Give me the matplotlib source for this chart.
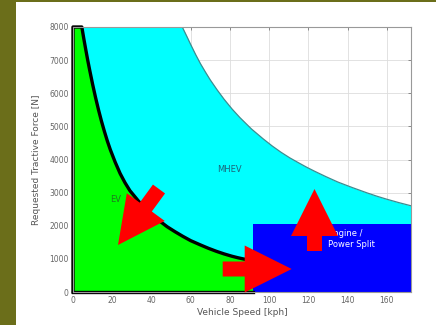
import numpy as np
import matplotlib
matplotlib.use("Agg")
from matplotlib import pyplot as plt
from matplotlib.patches import Polygon, Rectangle

# EV limit curve
ev_speed = [4.5, 5.5, 6.5, 7.5, 8.5, 10, 11.5, 13, 14.5, 16, 17.5, 19, 21.5, 24, 26.5, 29,
            34, 39, 44, 48, 52, 56, 60, 65, 69, 73, 77, 81, 84, 87, 92]
ev_force = [8000, 7650, 7320, 7000, 6700, 6270, 5870, 5500, 5160, 4850, 4560, 4300, 3920,
            3580, 3300, 3060, 2700, 2400, 2150, 1970, 1820, 1680, 1550, 1420, 1320, 1230,
            1150, 1080, 1035, 996, 946]

# MHEV upper limit curve
mhev_speed = [55.7, 58, 60, 62.5, 65, 67.5, 70, 73.5, 77, 81, 85, 91, 97, 101.5, 106, 110.5,
              115, 119, 123, 129, 135, 142.5, 150, 155, 160, 166, 172.5]
mhev_force = [8000, 7720, 7470, 7170, 6890, 6640, 6400, 6100, 5820, 5530, 5270, 4920, 4620,
              4410, 4220, 4050, 3900, 3770, 3650, 3480, 3320, 3150, 2990, 2890, 2800, 2700,
              2600]

# Engine / power split block
engine_speed = [91.6, 172.5]
engine_force = 2050

x_ticks = [0, 20, 40, 60, 80, 100, 120, 140, 160]
y_ticks = [0, 1000, 2000, 3000, 4000, 5000, 6000, 7000, 8000]

W, H = 436, 325
fig = plt.figure(figsize=(W / 100, H / 100), dpi=100)
fig.patch.set_facecolor("white")

# olive frame of the slide
fig.add_artist(Rectangle((0, 0), 16 / W, 1, transform=fig.transFigure,
                         facecolor="#6b6e1a", edgecolor="none"))
fig.add_artist(Rectangle((0, 1 - 1.5 / H), 1, 1.5 / H, transform=fig.transFigure,
                         facecolor="#6b6e1a", edgecolor="none"))

ax = fig.add_axes([73 / W, 1 - 292 / H, 338 / W, 265 / H])
ax.set_axisbelow(True)
ax.grid(True, color="#dddddd", linewidth=0.6)

# regions
ax.fill_between([0] + mhev_speed, 0, [8000] + mhev_force, color="#00ffff", lw=0)
ax.plot(mhev_speed, mhev_force, color="#3d8c90", lw=0.9)
ax.fill_between([0] + ev_speed, 0, [8000] + ev_force, color="#00ff00", lw=0)
ax.fill_between(engine_speed, 0, engine_force, color="#0000ff", lw=0)

# EV outline
ax.plot([0, 0] + ev_speed, [0, 8000] + ev_force, color="black", lw=2.4, clip_on=False,
        solid_joinstyle="round")
ax.plot([0, ev_speed[-1]], [0, 0], color="black", lw=2.4, clip_on=False)

ax.text(21.5, 2780, "EV", color="#1f7a1f", fontsize=6, ha="center", va="center")
ax.text(80, 3690, "MHEV", color="#1c6478", fontsize=6, ha="center", va="center")
ax.text(130, 1600, "Engine /\nPower Split", color="white", fontsize=6, ha="left",
        va="center", linespacing=1.3)

ax.set_xlim(0, 172.3)
ax.set_ylim(0, 8000)
ax.set_xticks(x_ticks)
ax.set_yticks(y_ticks)
ax.tick_params(direction="in", length=2, width=0.5, labelsize=5.5, colors="#666666",
               top=True, right=True, pad=3)
for s in ax.spines.values():
    s.set_color("#999999")
    s.set_linewidth(0.8)
ax.set_xlabel("Vehicle Speed [kph]", fontsize=6.5, color="#555555", labelpad=2)
ax.set_ylabel("Requested Tractive Force [N]", fontsize=6.5, color="#555555", labelpad=6)


def arrow(tail, tip, shaft_w=15, head_w=47, head_l=47):
    tail = np.array(tail, float)
    tip = np.array(tip, float)
    d = (tip - tail) / np.linalg.norm(tip - tail)
    n = np.array([-d[1], d[0]])
    base = tip - d * head_l
    pts = [tail + n * shaft_w / 2, base + n * shaft_w / 2, base + n * head_w / 2, tip,
           base - n * head_w / 2, base - n * shaft_w / 2, tail - n * shaft_w / 2]
    pts = [(p[0] / W, 1 - p[1] / H) for p in pts]
    fig.add_artist(Polygon(pts, closed=True, transform=fig.transFigure,
                           facecolor="#ff0000", edgecolor="none", zorder=10))


arrow((159, 189), (118, 245))
arrow((222.7, 269), (291.7, 269))
arrow((314.5, 251), (314.5, 189))

fig.savefig("out.png", dpi=100)
